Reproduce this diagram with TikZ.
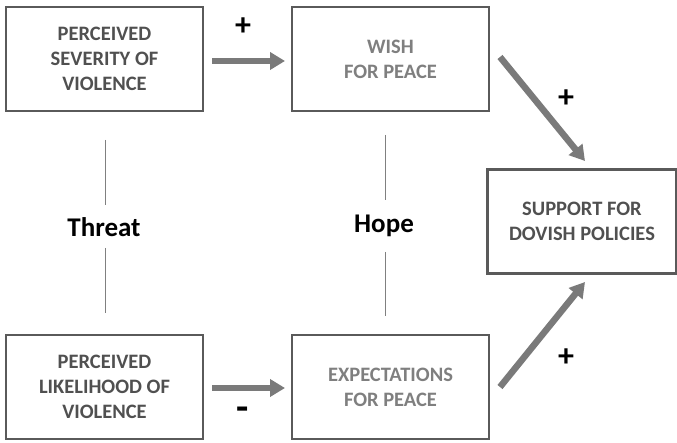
\documentclass[tikz,border=0pt]{standalone}
\usepackage{fontspec}
\setmainfont{Carlito}
\usetikzlibrary{arrows.meta}
\definecolor{boxline}{HTML}{5A5A5A}
\definecolor{darktext}{HTML}{505050}
\definecolor{lighttext}{HTML}{7F7F7F}
\definecolor{arrowgray}{HTML}{7A7A7A}
\definecolor{thingray}{HTML}{808080}
\begin{document}
\begin{tikzpicture}[x=1pt,y=1pt,
  box/.style={draw=boxline,line width=2.2pt,minimum width=197pt,minimum height=104pt,
    inner sep=0pt,align=center,font=\fontsize{20.5}{25}\selectfont\bfseries,text=darktext},
  lightbox/.style={box,text=lighttext},
  bigarrow/.style={draw=arrowgray,line width=6.5pt,-{Triangle[width=17pt,length=15pt]}},
  thinline/.style={draw=thingray,line width=1pt},
  sign/.style={font=\fontsize{32}{32}\selectfont\bfseries,text=black,inner sep=0pt},
  minussign/.style={font=\fontsize{40}{40}\selectfont\bfseries,text=black,inner sep=0pt},
  concept/.style={font=\fontsize{27}{27}\selectfont\bfseries,text=black,inner sep=0pt}]
\useasboundingbox (0,0) rectangle (677,442);
\node[box] (sev) at (104.5,383) {PERCEIVED\\SEVERITY OF\\VIOLENCE};
\node[lightbox] (wish) at (390.5,383) {WISH\\FOR PEACE};
\node[box] (lik) at (104.5,55) {PERCEIVED\\LIKELIHOOD OF\\VIOLENCE};
\node[lightbox] (exp) at (390.5,55) {EXPECTATIONS\\FOR PEACE};
\node[box,minimum width=189pt] (sup) at (582,220.5) {SUPPORT FOR\\DOVISH POLICIES};
% arrows
\coordinate (a1s) at (212,381);
\coordinate (a1e) at (285,381);
\coordinate (a2s) at (212,54);
\coordinate (a2e) at (285,54);
\coordinate (a3s) at (500,385);
\coordinate (a3e) at (585,281);
\coordinate (a4s) at (500,55);
\coordinate (a4e) at (585,160);
\draw[bigarrow] (a1s) -- (a1e);
\draw[bigarrow] (a2s) -- (a2e);
\draw[bigarrow] (a3s) -- (a3e);
\draw[bigarrow] (a4s) -- (a4e);
\node[sign] (p1) at (243,415) {+};
\node[minussign] (m1) at (243,28) {-};
\node[sign] (p2) at (566,343) {+};
\node[sign] (p3) at (566,84) {+};
% threat / hope
\node[concept] (threat) at (104,215) {Threat};
\node[concept] (hope) at (384,216) {Hope};
\coordinate (t1) at (105,302);
\coordinate (t2) at (105,237);
\coordinate (t3) at (105,194);
\coordinate (t4) at (105,129);
\coordinate (h1) at (385,307);
\coordinate (h2) at (385,242);
\coordinate (h3) at (385,190);
\coordinate (h4) at (385,126);
\draw[thinline] (t1) -- (t2);
\draw[thinline] (t3) -- (t4);
\draw[thinline] (h1) -- (h2);
\draw[thinline] (h3) -- (h4);
\end{tikzpicture}
\end{document}
